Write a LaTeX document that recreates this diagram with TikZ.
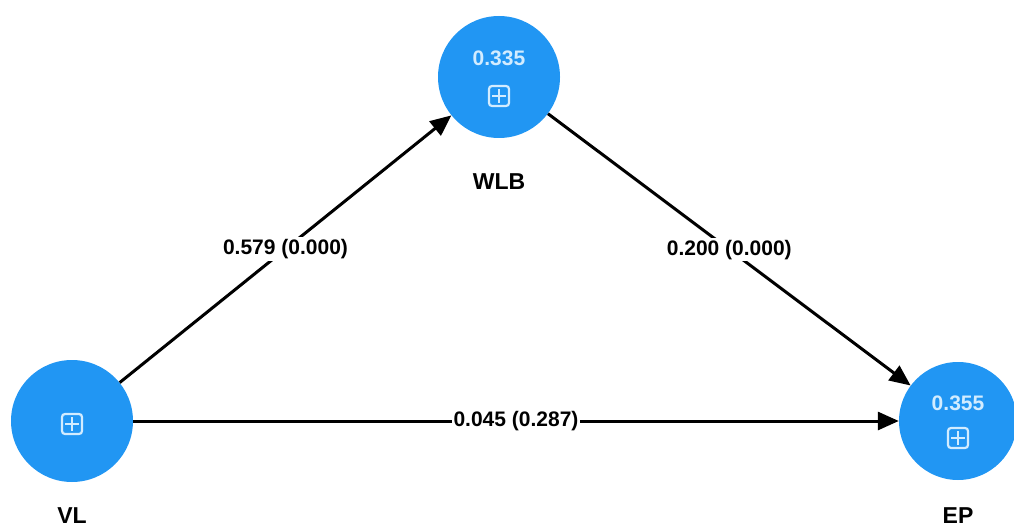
\documentclass[tikz,border=0pt]{standalone}
\usepackage{fontspec}
\setmainfont{Liberation Sans}
\usetikzlibrary{arrows.meta}
\definecolor{nodeblue}{RGB}{33,150,243}
\definecolor{iconc}{RGB}{210,236,255}
\begin{document}
\begin{tikzpicture}[x=1pt,y=-1pt,
  construct/.style={circle, fill=nodeblue, minimum size=122pt, inner sep=0pt},
  pathline/.style={line width=3pt, -{Triangle[length=21pt,width=18pt]}},
  plabel/.style={fill=white, font=\bfseries\fontsize{21}{25}\selectfont, inner sep=2pt},
  cname/.style={font=\bfseries\fontsize{23}{27}\selectfont, inner sep=0pt},
  rsq/.style={text=iconc, font=\bfseries\fontsize{21}{25}\selectfont},
  plusicon/.pic={
    \draw[iconc, line width=2.2pt, rounded corners=3pt] (-10,-10) rectangle (10,10);
    \draw[iconc, line width=2.2pt] (-7,0) -- (7,0) (0,-7) -- (0,7);
  }
]
\useasboundingbox (0,0) rectangle (1014,529);
\node[construct] (WLB) at (499,77) {};
\node[construct] (VL) at (72,421) {};
\node[construct, minimum size=118pt] (EP) at (958,421) {};

\node[rsq] (WLBr) at (499,58) {0.335};
\pic at (499,96) {plusicon};
\pic at (72,424) {plusicon};
\node[rsq] (EPr) at (958,403) {0.355};
\pic at (958,438) {plusicon};

\node[cname] (WLBn) at (499,182) {WLB};
\node[cname] (VLn) at (72,516) {VL};
\node[cname] (EPn) at (958,516) {EP};

\draw[pathline] (VL) -- node[plabel] (l1) {0.579 (0.000)} (WLB);
\draw[pathline] (WLB) -- node[plabel] (l2) {0.200 (0.000)} (EP);
\draw[pathline] (VL) -- node[plabel] (l3) {0.045 (0.287)} (EP);
\end{tikzpicture}
\end{document}
